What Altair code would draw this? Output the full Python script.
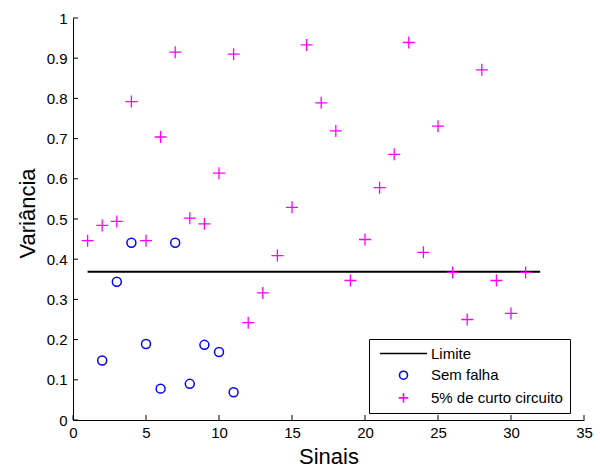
import altair as alt
import pandas as pd

# ---- data ----
sinais_sem_falha = [2, 3, 4, 5, 6, 7, 8, 9, 10, 11]
var_sem_falha = [0.148, 0.344, 0.441, 0.189, 0.078, 0.441, 0.090, 0.187, 0.169, 0.069]

sinais_curto = list(range(1, 32))
var_curto = [0.446, 0.484, 0.494, 0.792, 0.446, 0.704, 0.915, 0.502, 0.488, 0.614,
             0.910, 0.242, 0.316, 0.409, 0.529, 0.933, 0.789, 0.719, 0.347, 0.449,
             0.578, 0.661, 0.939, 0.417, 0.731, 0.367, 0.250, 0.871, 0.347, 0.265,
             0.367]

limite_x = [1, 32]
limite_y = [0.369, 0.369]

series = ["Limite", "Sem falha", "5% de curto circuito"]
x_ticks = [0, 5, 10, 15, 20, 25, 30, 35]
y_ticks = [0, 0.1, 0.2, 0.3, 0.4, 0.5, 0.6, 0.7, 0.8, 0.9, 1]

# ---- tables ----
df_sf = pd.DataFrame({"x": sinais_sem_falha, "y": var_sem_falha, "serie": "Sem falha"})
df_cc = pd.DataFrame({"x": sinais_curto, "y": var_curto, "serie": "5% de curto circuito"})
df_lim = pd.DataFrame({"x": limite_x, "y": limite_y})
df_xt = pd.DataFrame({"x": x_ticks, "y": 0})
df_yt = pd.DataFrame({"x": 0, "y": y_ticks})

FONT = "Liberation Sans"
W, H = 511, 402

xscale = alt.Scale(domain=[0, 35], nice=False, zero=False)
yscale = alt.Scale(domain=[0, 1], nice=False, zero=False)

xaxis = alt.Axis(values=x_ticks, ticks=False, grid=False, labelFlush=False,
                 labelOverlap=False, title="Sinais", titleFontSize=22,
                 titleFontWeight="normal", titleX=W / 2, titleY=43,
                 titleBaseline="alphabetic", titleAlign="center",
                 labelPadding=5, format="d")
yaxis = alt.Axis(values=y_ticks, ticks=False, grid=False, labelFlush=False,
                 labelOverlap=False, title="Variância", titleFontSize=22,
                 titleFontWeight="normal", titleX=-39, titleY=195,
                 titleAngle=-90, titleBaseline="alphabetic", titleAlign="center",
                 labelPadding=6, labelExpr="datum.value == 0 ? '0' : datum.value == 1 ? '1' : format(datum.value, '.1f')")

color_scale = alt.Scale(domain=series, range=["#000000", "#0000FF", "#FF00FF"])
shape_scale = alt.Scale(domain=series,
                        range=["M-5.9,0L5.9,0", "circle", "M-1.2,0L1.2,0M0,-1.2L0,1.2"])
legend = alt.Legend(title=None, orient="none", legendX=296, legendY=321,
                    strokeColor="#000000", fillColor="#FFFFFF", padding=7,
                    labelFontSize=15, labelFont=FONT, labelColor="#000000",
                    rowPadding=5.7, symbolSize=64, symbolStrokeWidth=1.6,
                    symbolOffset=20, labelOffset=20, values=series)

color_enc = alt.Color("serie:N", scale=color_scale, legend=legend)
shape_enc = alt.Shape("serie:N", scale=shape_scale, legend=legend)

limite = alt.Chart(df_lim).mark_line(color="#000000", strokeWidth=2).encode(
    x=alt.X("x:Q", scale=xscale, axis=xaxis),
    y=alt.Y("y:Q", scale=yscale, axis=yaxis),
)

circ = alt.Chart(df_sf).mark_point(filled=False, strokeWidth=1.5, opacity=1).encode(
    x=alt.X("x:Q", scale=xscale),
    y=alt.Y("y:Q", scale=yscale),
    color=color_enc, shape=shape_enc, size=alt.value(80),
)

plus = alt.Chart(df_cc).mark_point(filled=False, strokeWidth=1.3, opacity=1).encode(
    x=alt.X("x:Q", scale=xscale),
    y=alt.Y("y:Q", scale=yscale),
    color=color_enc, shape=shape_enc, size=alt.value(100),
)

xt = alt.Chart(df_xt).mark_point(filled=False, color="#000000", strokeWidth=1, opacity=1).encode(
    x=alt.X("x:Q", scale=xscale), y=alt.Y("y:Q", scale=yscale),
    shape=alt.value("M0,0L0,-1"), size=alt.value(100),
)
yt = alt.Chart(df_yt).mark_point(filled=False, color="#000000", strokeWidth=1, opacity=1).encode(
    x=alt.X("x:Q", scale=xscale), y=alt.Y("y:Q", scale=yscale),
    shape=alt.value("M0,0L1,0"), size=alt.value(100),
)

chart = alt.layer(limite, circ, plus, xt, yt).properties(
    width=W, height=H,
    autosize=alt.AutoSizeParams(type="none"),
    padding={"left": 73, "top": 18, "right": 16, "bottom": 48},
    background="#FFFFFF",
).configure_view(stroke=None).configure_axis(
    domainColor="#000000", domainWidth=1, labelFont=FONT, labelFontSize=15,
    labelColor="#000000", titleFont=FONT, titleColor="#000000",
)

chart.save("out.html", embed_options={"renderer": "svg", "actions": False})
